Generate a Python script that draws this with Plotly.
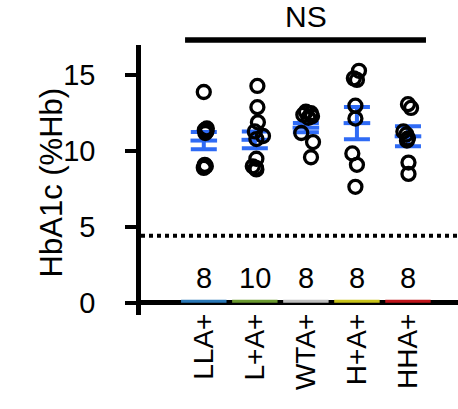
import plotly.graph_objects as go

groups = ["LLA+", "L+A+", "WTA+", "H+A+", "HHA+"]
counts = [8, 10, 8, 8, 8]
bar_colors = ["#2A78B8", "#6B9A2F", "#BEBEBE", "#C9C31A", "#C0141A"]
bar_vals = [0.2, 0.2, 0.2, 0.2, 0.2]

means = [10.7, 10.75, 11.55, 11.85, 10.98]
sems = [0.57, 0.55, 0.30, 1.07, 0.66]

lla_vals = [13.9, 11.5, 11.4, 11.3, 11.2, 9.1, 9.0, 8.9]
lla_jit = [0.0, 0.06, 0.02, 0.05, 0.03, 0.02, 0.04, 0.0]
lpa_vals = [14.3, 12.9, 11.9, 11.3, 11.0, 10.8, 9.5, 9.0, 8.9, 8.8]
lpa_jit = [0.05, 0.05, 0.06, 0.0, 0.16, 0.03, 0.03, -0.04, 0.02, 0.03]
wta_vals = [12.6, 12.5, 12.4, 12.3, 12.2, 11.2, 10.6, 9.6]
wta_jit = [0.0, 0.1, -0.05, 0.12, 0.05, -0.09, 0.14, 0.1]
hpa_vals = [15.3, 14.8, 14.7, 13.0, 12.15, 9.85, 9.1, 7.65]
hpa_jit = [0.04, -0.06, 0.0, -0.03, -0.03, -0.09, 0.0, -0.03]
hha_vals = [13.1, 12.85, 11.3, 11.1, 10.85, 9.25, 8.5, 10.7]
hha_jit = [0.0, 0.06, -0.09, -0.03, 0.0, 0.01, 0.01, -0.02]

threshold = 4.43

point_sets = [(lla_vals, lla_jit), (lpa_vals, lpa_jit), (wta_vals, wta_jit),
              (hpa_vals, hpa_jit), (hha_vals, hha_jit)]

FONT = "Arial, Liberation Sans, sans-serif"
BLUE = "#2F6BF5"

fig = go.Figure()

fig.add_trace(go.Bar(
    x=list(range(len(groups))), y=bar_vals, width=0.89,
    marker=dict(color=bar_colors, line=dict(width=0)), showlegend=False))

fig.add_trace(go.Scatter(
    x=list(range(len(groups))), y=means, mode="markers",
    marker=dict(symbol="line-ew", size=19, line=dict(width=4, color=BLUE)),
    error_y=dict(type="data", array=sems, color=BLUE, thickness=4, width=13),
    showlegend=False))

for i, (vals, jit) in enumerate(point_sets):
    fig.add_trace(go.Scatter(
        x=[i + j for j in jit], y=vals, mode="markers",
        marker=dict(symbol="circle-open", size=13, color="black",
                    line=dict(width=3.3, color="black")),
        showlegend=False))

fig.add_hline(y=threshold, line=dict(color="black", width=4, dash="dot"))

for i, c in enumerate(counts):
    fig.add_annotation(x=i, y=1.62, xref="x", yref="y", text=str(c),
                       showarrow=False, font=dict(size=29, color="black", family=FONT))

fig.add_annotation(x=2, y=1.037, xref="x", yref="paper", yanchor="bottom", text="NS",
                   showarrow=False, font=dict(size=30, color="black", family=FONT))
fig.add_shape(type="line", xref="paper", yref="paper", x0=0.139, x1=0.899,
              y0=1.0185, y1=1.0185, line=dict(color="black", width=5.5))

fig.add_annotation(x=-0.341, y=0.4926, xref="paper", yref="paper", text="HbA1c (%Hb)",
                   textangle=-90, showarrow=False,
                   font=dict(size=31, color="black", family=FONT))

fig.update_layout(
    width=458, height=409,
    margin=dict(l=141, r=0, t=45, b=94),
    paper_bgcolor="white", plot_bgcolor="white",
    font=dict(family=FONT, color="black"),
    xaxis=dict(range=[-1.23, 4.98], tickvals=list(range(len(groups))), ticktext=groups,
               tickangle=-90, ticks="", showline=False, showgrid=False, zeroline=False,
               ticklabelstandoff=-8,
               tickfont=dict(size=28, color="black", family=FONT)),
    yaxis=dict(range=[-0.8, 17], tickvals=[0, 5, 10, 15], ticks="outside", ticklen=11,
               tickwidth=4, tickcolor="black", showline=True, linewidth=4.5,
               linecolor="black", showgrid=False, zeroline=True, zerolinewidth=4.5,
               zerolinecolor="black", ticklabelstandoff=24,
               tickfont=dict(size=29, color="black", family=FONT)),
)

fig.write_html("out.html")
